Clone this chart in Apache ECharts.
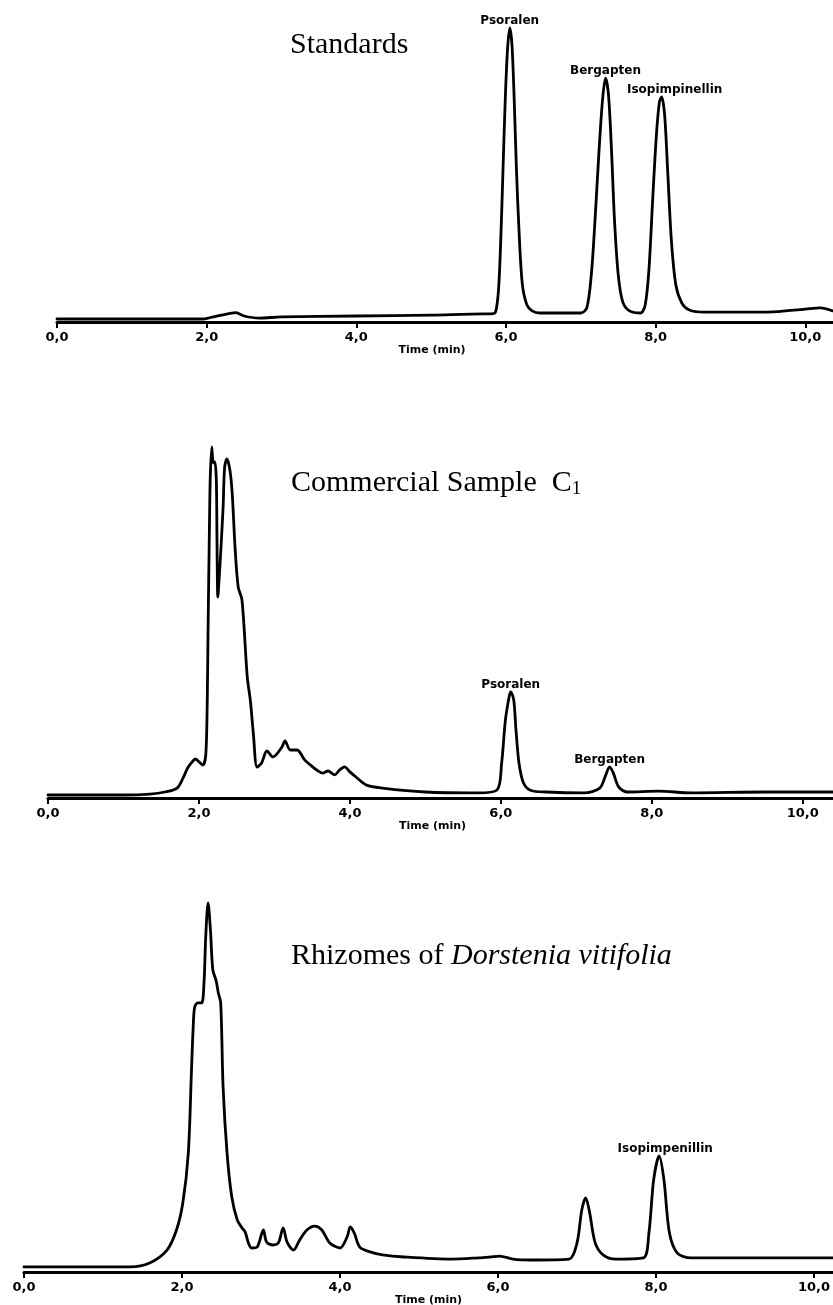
<!DOCTYPE html>
<html>
<head>
<meta charset="utf-8">
<title>HPLC chromatograms</title>
<script src="https://cdn.jsdelivr.net/npm/echarts@6/dist/echarts.min.js"></script>
<style>
  html, body { margin: 0; padding: 0; background: #fff; }
  #chart { width: 833px; height: 1305px; }
</style>
</head>
<body>
<div id="chart"></div>
<script>
// retention time (min), detector signal (arbitrary units)
const tickValues = [0, 2, 4, 6, 8, 10]

const standardsTrace = [
  [0, 1.0], [0.5, 1.0], [1.0, 1.0], [1.5, 1.0], [1.95, 1.0], [2.05, 1.5], [2.2, 2.3], [2.39, 3.1],
  [2.5, 2.0], [2.7, 1.3], [3.0, 1.7], [4.0, 2.0], [5.0, 2.3], [5.7, 2.7], [5.8, 2.7], [5.86, 3.3],
  [5.9, 10.7], [5.93, 27.3], [5.96, 50.7], [5.99, 74], [6.02, 90.7], [6.05, 98], [6.08, 92.3],
  [6.11, 74], [6.14, 50.7], [6.18, 27.3], [6.22, 12.3], [6.28, 5.7], [6.35, 3.7], [6.45, 3.0],
  [6.8, 3.0], [7.0, 3.0], [7.08, 4.7], [7.14, 15.7], [7.19, 34], [7.24, 55.7], [7.29, 74],
  [7.33, 81.3], [7.37, 75.7], [7.41, 57.3], [7.45, 34], [7.5, 15.7], [7.56, 6.7], [7.65, 3.7],
  [7.8, 3.0], [7.86, 5.7], [7.91, 17.3], [7.96, 40.7], [8.01, 62.3], [8.05, 73.3], [8.08, 75],
  [8.12, 69], [8.16, 50.7], [8.21, 27.3], [8.27, 12.3], [8.35, 6.3], [8.45, 4.0], [8.65, 3.3],
  [9.0, 3.3], [9.5, 3.3], [10.0, 4.3], [10.2, 4.7], [10.37, 3.7]
]

const commercialTrace = [
  [0, 1.0], [0.5, 1.0], [1.0, 1.0], [1.35, 1.3], [1.55, 2], [1.71, 3.3], [1.79, 6.7], [1.85, 10],
  [1.91, 12], [1.95, 13], [2.05, 11], [2.09, 14.3], [2.11, 32.7], [2.12, 55], [2.14, 92.7],
  [2.15, 107], [2.17, 117], [2.19, 111.7], [2.21, 112], [2.23, 106], [2.24, 82.7], [2.25, 67],
  [2.27, 74.3], [2.29, 82.7], [2.32, 97], [2.34, 110.3], [2.37, 113], [2.41, 109.3], [2.44, 101.7],
  [2.48, 82.7], [2.52, 70.3], [2.57, 66], [2.64, 40.3], [2.68, 32.7], [2.72, 21.7], [2.77, 10.3],
  [2.83, 11.7], [2.9, 15.7], [2.98, 13.7], [3.1, 17], [3.14, 19], [3.21, 16], [3.3, 16],
  [3.4, 12.7], [3.51, 10.3], [3.58, 9], [3.64, 8.3], [3.71, 9], [3.8, 7.7], [3.86, 9.3],
  [3.93, 10.4], [4.0, 8.7], [4.08, 7], [4.22, 4.3], [4.43, 3.3], [5.0, 2], [5.7, 1.7], [5.95, 2.7],
  [6.01, 11.6], [6.06, 26], [6.11, 33.8], [6.13, 35.4], [6.17, 32.7], [6.2, 22.7], [6.24, 11.6],
  [6.3, 5], [6.4, 2.5], [6.6, 2], [7.1, 1.7], [7.31, 3.3], [7.39, 7.7], [7.44, 10.4], [7.49, 8.3],
  [7.56, 3.7], [7.67, 2], [8.09, 2.3], [8.52, 1.7], [9.5, 2], [10.4, 2]
]

const rhizomeTrace = [
  [0, 1.7], [0.5, 1.7], [1.0, 1.7], [1.34, 1.7], [1.59, 3], [1.81, 7.3], [1.93, 14], [2.01, 23],
  [2.08, 39.7], [2.12, 67.3], [2.14, 80.7], [2.16, 88.3], [2.2, 89.7], [2.25, 89.7], [2.28, 97.3],
  [2.3, 111.7], [2.33, 123], [2.36, 114], [2.39, 100.7], [2.43, 97.3], [2.46, 93], [2.49, 89.7],
  [2.52, 61.7], [2.57, 39.7], [2.63, 25], [2.7, 17.3], [2.76, 14.7], [2.8, 13.3], [2.84, 9.7],
  [2.88, 8], [2.95, 8.3], [3.03, 14], [3.07, 10], [3.15, 9], [3.22, 9.7], [3.28, 14.7], [3.33, 10],
  [3.41, 7.3], [3.49, 10.7], [3.58, 14], [3.68, 15.3], [3.77, 14], [3.87, 9.7], [4.0, 8],
  [4.09, 11.7], [4.13, 15], [4.18, 13], [4.25, 8.3], [4.38, 6.7], [4.54, 5.7], [4.81, 5],
  [5.41, 4.3], [5.75, 4.7], [5.9, 5.0], [6.02, 5.3], [6.19, 4.3], [6.42, 4], [6.9, 4.3], [7.0, 9.7],
  [7.06, 20.7], [7.11, 24.7], [7.16, 19.7], [7.23, 9.7], [7.33, 5.7], [7.49, 4.3], [7.84, 4.7],
  [7.91, 13], [7.97, 30.7], [8.04, 38.7], [8.1, 30.7], [8.17, 13], [8.27, 6.3], [8.44, 4.7],
  [9.2, 4.7], [10.24, 4.7]
]

// peak annotations
const standardsPeaks = ['Psoralen', 'Bergapten', 'Isopimpinellin']
const standardsPeakTimes = [6.05, 7.33, 8.08]
const commercialPeaks = ['Psoralen', 'Bergapten']
const commercialPeakTimes = [6.13, 7.44]
const rhizomePeaks = ['Isopimpenillin']
const rhizomePeakTimes = [8.04]

const chart = echarts.init(document.getElementById('chart'))

const fmtTick = (v) => v.toFixed(1).replace('.', ',')

const peakMarks = (trace, names, times, offsets) => {
  return names.map((name, i) => {
    const pt = trace.find((p) => p[0] === times[i])
    return {
      name: name,
      coord: [pt[0], pt[1]],
      label: { offset: [offsets[i] || 0, 0] }
    }
  })
}

const makeXAxis = (gridIndex, max, nameGap, nameShift) => ({
  type: 'value',
  gridIndex: gridIndex,
  min: 0,
  max: max,
  name: 'Time (min)',
  nameLocation: 'middle',
  nameGap: nameGap,
  nameTextStyle: {
    fontFamily: 'DejaVu Sans',
    fontWeight: 'bold',
    fontSize: 11,
    color: '#000',
    padding: [0, nameShift, 0, 0]
  },
  axisLine: { onZero: false, lineStyle: { color: '#000', width: 3 } },
  axisTick: {
    customValues: tickValues,
    length: 6,
    lineStyle: { color: '#000', width: 2 }
  },
  axisLabel: {
    customValues: tickValues,
    formatter: fmtTick,
    fontFamily: 'DejaVu Sans',
    fontWeight: 'bold',
    fontSize: 13,
    color: '#000',
    margin: 9
  },
  splitLine: { show: false }
})

const makeYAxis = (gridIndex, max) => ({
  type: 'value',
  gridIndex: gridIndex,
  min: 0,
  max: max,
  show: false
})

const makeSeries = (index, trace, marks) => ({
  type: 'line',
  xAxisIndex: index,
  yAxisIndex: index,
  data: trace,
  symbol: 'none',
  smooth: 0.3,
  lineStyle: { color: '#000', width: 2.8, join: 'round', cap: 'round' },
  markPoint: {
    symbol: 'circle',
    symbolSize: 0,
    silent: true,
    label: {
      show: true,
      position: 'top',
      distance: 1,
      formatter: '{b}',
      fontFamily: 'DejaVu Sans',
      fontWeight: 'bold',
      fontSize: 12,
      color: '#000'
    },
    data: marks
  }
})

const titleStyle = {
  fontFamily: 'Liberation Serif',
  fontSize: 30,
  fontWeight: 'normal',
  color: '#000',
  lineHeight: 32
}

const option = {
  backgroundColor: '#fff',
  animation: false,
  title: [
    { text: 'Standards', left: 290, top: 29, padding: 0, textStyle: titleStyle },
    {
      text: 'Commercial Sample  C{sub|1}',
      left: 291,
      top: 467,
      padding: 0,
      textStyle: {
        ...titleStyle,
        rich: {
          sub: {
            fontFamily: 'Liberation Serif',
            fontSize: 19,
            lineHeight: 20,
            verticalAlign: 'bottom',
            color: '#000'
          }
        }
      }
    },
    {
      text: 'Rhizomes of {it|Dorstenia vitifolia}',
      left: 291,
      top: 940,
      padding: 0,
      textStyle: {
        ...titleStyle,
        rich: {
          it: {
            fontFamily: 'Liberation Serif',
            fontSize: 30,
            fontStyle: 'italic',
            lineHeight: 32,
            color: '#000'
          }
        }
      }
    }
  ],
  grid: [
    { left: 57, right: 0, top: 22, height: 300, outerBoundsMode: 'none', containLabel: false },
    { left: 48, right: 0, top: 438, height: 360, outerBoundsMode: 'none', containLabel: false },
    { left: 24, right: 0, top: 882, height: 390, outerBoundsMode: 'none', containLabel: false }
  ],
  xAxis: [
    makeXAxis(0, 10.37, 23, 26),
    makeXAxis(1, 10.4, 21, 16),
    makeXAxis(2, 10.24, 21, 0)
  ],
  yAxis: [makeYAxis(0, 100), makeYAxis(1, 120), makeYAxis(2, 130)],
  series: [
    makeSeries(0, standardsTrace, peakMarks(standardsTrace, standardsPeaks, standardsPeakTimes, [0, 0, 13])),
    makeSeries(1, commercialTrace, peakMarks(commercialTrace, commercialPeaks, commercialPeakTimes, [0, 0])),
    makeSeries(2, rhizomeTrace, peakMarks(rhizomeTrace, rhizomePeaks, rhizomePeakTimes, [6]))
  ]
}

chart.setOption(option)
</script>
</body>
</html>
